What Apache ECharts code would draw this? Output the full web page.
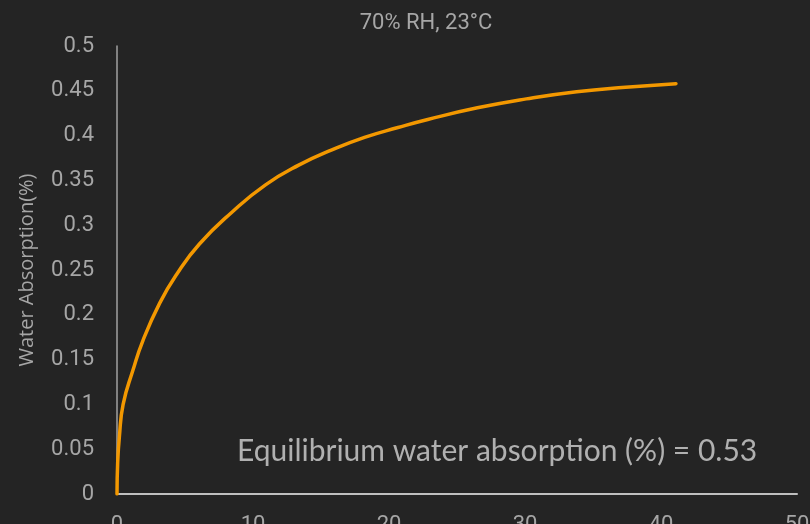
<!DOCTYPE html>
<html>
<head>
<meta charset="utf-8">
<script src="https://cdn.jsdelivr.net/npm/echarts@6/dist/echarts.min.js"></script>
<style>
html,body{margin:0;padding:0;background:#242424;}
#c{width:810px;height:524px;}
</style>
</head>
<body>
<div id="c"></div>
<script>
const titleText = '70% RH, 23°C';
const yAxisName = 'Water Absorption(%)';
const noteText = 'Equilibrium water absorption (%) = 0.53';
const timeX = [0, 0.05, 0.17, 0.45, 1.17, 1.9, 3.14, 4.38, 6.06, 8.49, 10.92, 13.36, 15.8, 18.2, 20.66, 22.85, 26.5, 30.1, 33.8, 37.4, 41.1];
const absorption = [0, 0.035, 0.063, 0.10, 0.138, 0.171, 0.213, 0.245, 0.279, 0.315, 0.345, 0.367, 0.384, 0.398, 0.409, 0.418, 0.431, 0.441, 0.449, 0.454, 0.458];

const chart = echarts.init(document.getElementById('c'), null, {renderer: 'canvas'});
const lbl = '#a6a6a6';
chart.setOption({
  backgroundColor: '#242424',
  animation: false,
  title: {
    text: titleText,
    left: 421, top: 7, textAlign: 'center',
    textStyle: {color: lbl, fontFamily: 'Roboto', fontSize: 22, fontWeight: 'normal'}
  },
  grid: {left: 117, right: 13, top: 46, bottom: 30, containLabel: false, outerBoundsMode: 'none'},
  xAxis: {
    type: 'value', min: 0, max: 50, interval: 10,
    axisLine: {show: true, lineStyle: {color: '#bfbfbf', width: 2}},
    axisTick: {show: false},
    splitLine: {show: false},
    axisLabel: {color: lbl, fontFamily: 'Roboto', fontSize: 22, margin: 20}
  },
  yAxis: {
    type: 'value', min: 0, max: 0.5, interval: 0.05,
    name: yAxisName, nameLocation: 'middle', nameGap: 80, nameRotate: 90,
    nameTextStyle: {color: lbl, fontFamily: 'Open Sans', fontSize: 20},
    axisLine: {show: true, lineStyle: {color: '#a0a0a0', width: 1.5}},
    axisTick: {show: false},
    splitLine: {show: false},
    axisLabel: {color: lbl, fontFamily: 'Roboto', fontSize: 22, margin: 23,
      formatter: v => String(+v.toFixed(2))}
  },
  series: [{
    type: 'line',
    data: timeX.map((x, i) => [x, absorption[i]]),
    smooth: 0.5,
    showSymbol: false,
    lineStyle: {color: '#f39800', width: 3.5, cap: 'round'}
  }],
  graphic: [{
    type: 'text', left: 237, top: 436,
    style: {text: noteText, fill: '#b0b0b0', font: '30px Lato'}
  }]
});
</script>
</body>
</html>
